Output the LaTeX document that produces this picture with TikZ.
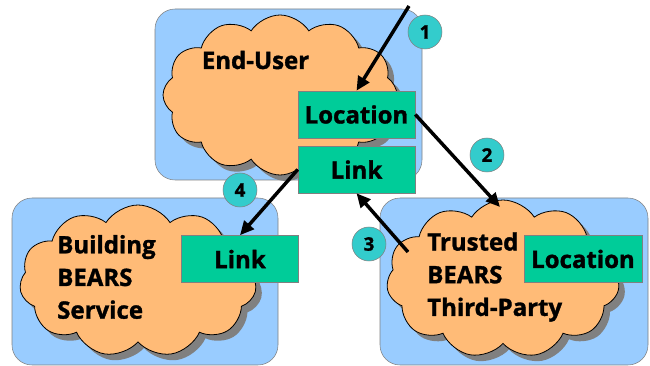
\documentclass[tikz,border=0pt]{standalone}
\usepackage{fontspec}
\setmainfont{Open Sans}[BoldFeatures={FakeBold=1.3}]
\usetikzlibrary{shapes.symbols,shadows,arrows.meta}

\definecolor{skyblue}{RGB}{153,204,255}
\definecolor{peach}{RGB}{255,187,119}
\definecolor{jade}{RGB}{0,204,153}
\definecolor{aqua}{RGB}{51,204,204}
\definecolor{rim}{RGB}{128,128,128}

\begin{document}
\begin{tikzpicture}[x=0.75pt,y=-0.75pt,
  party/.style={draw=rim, fill=skyblue, rounded corners=15pt, minimum height=125.25pt},
  puffs/.style={cloud, cloud puffs=11, cloud puff arc=115, cloud ignores aspect, draw=black,
    line width=0.6pt, fill=peach, inner sep=0pt,
    general shadow={fill=rim, shadow xshift=4.5pt, shadow yshift=-4.5pt}},
  tag/.style={draw=rim, fill=jade, minimum width=87.75pt, minimum height=35.25pt,
    font=\fontsize{18}{18}\selectfont\bfseries},
  who/.style={font=\fontsize{18}{24.5}\selectfont\bfseries, align=left, inner sep=0pt},
  step num/.style={circle, draw=rim, fill=aqua, minimum size=25.5pt, inner sep=0pt,
    font=\fontsize{14}{14}\selectfont\bfseries},
  flow/.style={line width=2.6pt, -{Triangle[length=10.5pt,width=9.5pt]}}]
  \useasboundingbox (0,0) rectangle (650,366);

  \node[party, minimum width=200.25pt, minimum height=128.25pt] (userBox) at (288.5,94.5) {};
  \node[party, minimum width=199.5pt] (buildBox) at (145,281.5) {};
  \node[party, minimum width=201pt] (thirdBox) at (514,281.5) {};

  \node[puffs, cloud puffs=12, minimum width=175.5pt, minimum height=120pt] (user) at (280,95) {};
  \node[puffs, minimum width=177.75pt, minimum height=114pt] (build) at (138,281) {};
  \node[puffs, minimum width=174.75pt, minimum height=118.5pt] (third) at (503,279) {};

  \node[who] (userName) at (255.5,60) {End-User};
  \node[who, anchor=west] (buildName) at (57,277) {Building\\BEARS\\Service};
  \node[who, anchor=west] (thirdName) at (427,277) {Trusted\\BEARS\\Third-Party};

  \node[tag] (userLoc) at (356.5,114.5) {Location};
  \node[tag] (userLink) at (356.5,169.5) {Link};
  \node[tag] (buildLink) at (240,259) {Link};
  \node[tag, minimum width=88.5pt] (thirdLoc) at (583,259) {Location};

  \coordinate (query) at (409,6);
  \coordinate (thirdIn) at (500,207);
  \coordinate (thirdOut) at (408,252);

  \draw[flow] (query) -- (userLoc.north);
  \draw[flow] (userLoc.east) -- (thirdIn);
  \draw[flow] (thirdOut) -- (userLink.south);
  \draw[flow] (userLink.west) -- (buildLink.north);

  \node[step num] (s1) at (425,32) {1};
  \node[step num] (s2) at (487,155) {2};
  \node[step num] (s3) at (369,244) {3};
  \node[step num] (s4) at (240,190) {4};
\end{tikzpicture}
\end{document}
